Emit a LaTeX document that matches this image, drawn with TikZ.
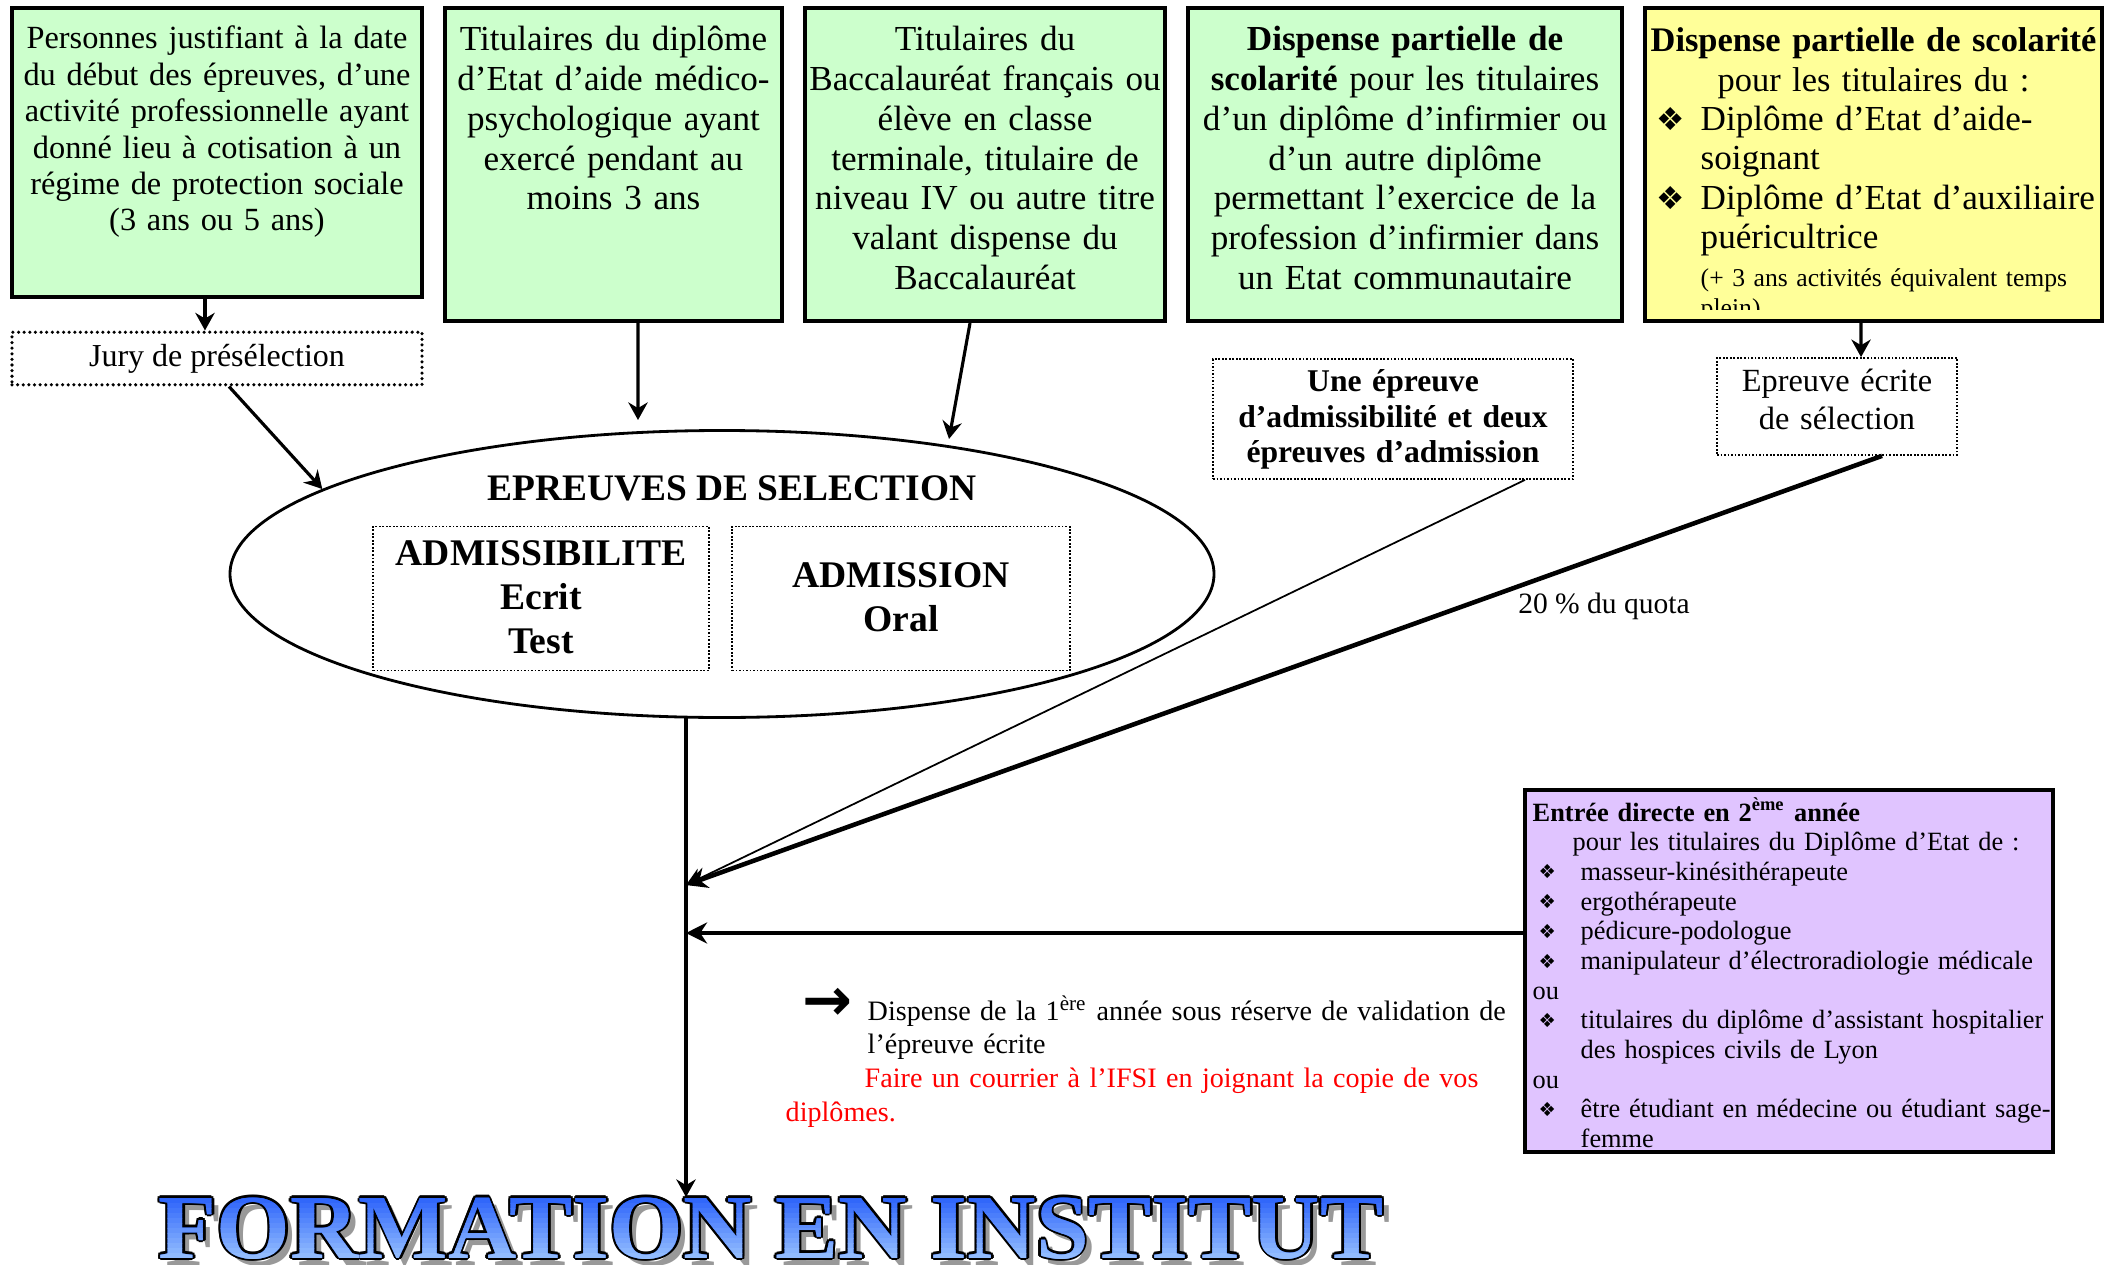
\documentclass[tikz,border=0pt]{standalone}
\usepackage{fontspec}
\setmainfont{Liberation Serif}
\newfontfamily\dejavu{DejaVu Sans}
\usetikzlibrary{arrows.meta,shapes.geometric,calc}

\definecolor{boxgreen}{RGB}{204,255,204}
\definecolor{boxyellow}{RGB}{255,255,153}
\definecolor{boxpurple}{RGB}{224,196,255}
\definecolor{tblue}{RGB}{40,95,250}
\definecolor{tlight}{RGB}{165,205,255}

\newcommand{\fsz}[2]{\fontsize{#1}{#2}\selectfont}
\newcommand{\dia}[1]{{\dejavu\fontsize{#1}{#1}\selectfont ❖}}
\newcommand{\pb}{\hspace*{0.06cm}\makebox[0.42cm][l]{\raisebox{0.4pt}{\dia{5.5}}}}
\newcommand{\ftext}{\scalebox{1.037}[1]{FORMATION EN INSTITUT}}

\tikzset{
	greenbox/.style={draw, line width=1.2pt, fill=boxgreen, inner sep=0pt},
	dotbox/.style={draw, line width=0.5pt, dash pattern=on 0.5pt off 0.5pt, inner sep=0pt},
	txt/.style={inner sep=0pt, anchor=base, align=center},
	titletext/.style={inner sep=0pt, anchor=base west, font=\bfseries\fsz{26}{26}},
	arr/.style={line width=0.9pt, -{Stealth[length=5pt,width=5.5pt]}},
	thinarr/.style={line width=0.5pt, -{Stealth[length=5pt,width=5.5pt]}},
	thickarr/.style={line width=1.3pt, -{Stealth[length=6pt,width=6pt]}}
}

\begin{document}
\begin{tikzpicture}
	\useasboundingbox (0,0) rectangle (21.14,-12.65);

	\node[greenbox, minimum width=4.10cm, minimum height=2.89cm] (bx1) at (2.17,-1.525) {};
	\node[greenbox, minimum width=3.37cm, minimum height=3.13cm] (bx2) at (6.135,-1.645) {};
	\node[greenbox, minimum width=3.60cm, minimum height=3.13cm] (bx3) at (9.85,-1.645) {};
	\node[greenbox, minimum width=4.34cm, minimum height=3.13cm] (bx4) at (14.05,-1.645) {};
	\node[greenbox, fill=boxyellow, minimum width=4.57cm, minimum height=3.13cm] (bx5) at (18.735,-1.645) {};

	\node[txt, text width=4.3cm, font=\fsz{9.2}{10.35}] (t1) at (2.17,-0.49) {Personnes justifiant à la date\\du début des épreuves, d’une\\activité professionnelle ayant\\donné lieu à cotisation à un\\régime de protection sociale\\(3 ans ou 5 ans)};
	\node[txt, text width=3.6cm, font=\fsz{10}{11.3}] (t2) at (6.135,-0.51) {Titulaires du diplôme\\d’Etat d’aide médico-\\psychologique ayant\\exercé pendant au\\moins 3 ans};
	\node[txt, text width=3.9cm, font=\fsz{10}{11.3}] (t3) at (9.85,-0.51) {Titulaires du\\Baccalauréat français ou\\élève en classe\\terminale, titulaire de\\niveau IV ou autre titre\\valant dispense du\\Baccalauréat};
	\node[txt, text width=4.5cm, font=\fsz{10}{11.3}] (t4) at (14.05,-0.51) {\textbf{Dispense partielle de}\\\textbf{scolarité} pour les titulaires\\d’un diplôme d’infirmier ou\\d’un autre diplôme\\permettant l’exercice de la\\profession d’infirmier dans\\un Etat communautaire};
	\node[txt, text width=4.8cm, font=\fsz{9.8}{11.3}] (t5a) at (18.735,-0.516) {\textbf{Dispense partielle de scolarité}\\pour les titulaires du :};
	\node[txt, anchor=base west, text width=4.8cm, align=left, font=\fsz{10}{11.2}] (t5b) at (16.56,-1.306) {\makebox[0.44cm][l]{\dia{9}}Diplôme d’Etat d’aide-\\\hspace*{0.44cm}soignant\\\makebox[0.44cm][l]{\dia{9}}Diplôme d’Etat d’auxiliaire\\\hspace*{0.44cm}puéricultrice};
	\begin{scope}
		\clip (16.47,-0.10) rectangle (21.00,-3.10);
		\node[txt, anchor=base west, text width=4.2cm, align=left, font=\fsz{7.3}{8.5}] (t5c) at (17.00,-2.87) {(+ 3 ans activités équivalent temps\\plein)};
	\end{scope}

	\node[draw, line width=1pt, dash pattern=on 0pt off 1.6pt, line cap=round, minimum width=4.10cm, minimum height=0.48cm, font=\fsz{9.1}{10}] (jury) at (2.17,-3.585) {Jury de présélection};

	\node[dotbox, minimum width=3.60cm, minimum height=1.20cm] (une) at (13.93,-4.19) {};
	\node[txt, text width=3.7cm, font=\bfseries\fsz{9}{10}] (unet) at (13.93,-3.92) {Une épreuve\\d’admissibilité et deux\\épreuves d’admission};
	\node[dotbox, minimum width=2.40cm, minimum height=0.97cm] (ecr) at (18.37,-4.065) {};
	\node[txt, text width=2.5cm, font=\fsz{9.2}{10.8}] (ecrt) at (18.37,-3.92) {Epreuve écrite\\de sélection};

	\node[draw, ellipse, line width=0.8pt, inner sep=0pt, minimum width=9.84cm, minimum height=2.87cm] (sel) at (7.22,-5.74) {};
	\node[txt, font=\bfseries\fsz{10.65}{12}] (seltitle) at (7.32,-5.005) {EPREUVES DE SELECTION};
	\node[dotbox, minimum width=3.36cm, minimum height=1.44cm] (adm1) at (5.41,-5.985) {};
	\node[txt, text width=3.3cm, font=\bfseries\fsz{10.7}{12.5}] (adt1) at (5.41,-5.655) {ADMISSIBILITE\\Ecrit\\Test};
	\node[dotbox, minimum width=3.38cm, minimum height=1.44cm] (adm2) at (9.01,-5.985) {};
	\node[txt, text width=3.3cm, font=\bfseries\fsz{10.7}{12.5}] (adt2) at (9.01,-5.875) {ADMISSION\\Oral};

	\node[txt, font=\fsz{8.4}{9.6}] (quota) at (16.04,-6.13) {20 \% du quota};

	\node[draw, line width=1.2pt, fill=boxpurple, inner sep=0pt, minimum width=5.28cm, minimum height=3.62cm] (pur) at (17.89,-9.71) {};
	\node[txt, anchor=base west, text width=6.0cm, align=left, font=\fsz{7.5}{8.45}] (purt) at (15.32,-8.21) {\textbf{Entrée directe en 2\textsuperscript{ème} année}\\\hspace*{0.40cm}pour les titulaires du Diplôme d’Etat de :\\\pb masseur-kinésithérapeute\\\pb ergothérapeute\\\pb pédicure-podologue\\\pb manipulateur d’électroradiologie médicale\\ou\\\pb titulaires du diplôme d’assistant hospitalier\\\hspace*{0.48cm}des hospices civils de Lyon\\ou\\\pb être étudiant en médecine ou étudiant sage-\\\hspace*{0.48cm}femme};

	\node[txt, anchor=base west, text width=8.0cm, align=left, font=\fsz{8}{9.6}] (dispn) at (7.85,-10.20) {\makebox[0.82cm][l]{\hspace*{0.17cm}{\dejavu\bfseries\fsz{17}{17}→}}Dispense de la 1\textsuperscript{ère} année sous réserve de validation de\\\hspace*{0.82cm}l’épreuve écrite\\\hspace*{0.79cm}\textcolor{red}{Faire un courrier à l’IFSI en joignant la copie de vos}\\\textcolor{red}{diplômes.}};

	\coordinate (e2) at (6.38,-4.20);
	\coordinate (e3) at (9.49,-4.39);
	\coordinate (ltop) at (6.86,-7.17);
	\coordinate (j1) at (6.86,-8.85);
	\coordinate (j2) at (6.86,-9.33);
	\coordinate (lbot) at (6.86,-11.97);

	\draw[arr] ([xshift=-0.12cm]bx1.south) -- ([xshift=-0.12cm]jury.north);
	\draw[arr] ([xshift=0.12cm]jury.south) -- (sel.168);
	\draw[arr] ([xshift=0.245cm]bx2.south) -- (e2);
	\draw[arr] ([xshift=-0.15cm]bx3.south) -- (e3);
	\draw[arr] ([xshift=-0.125cm]bx5.south) -- ([xshift=0.24cm]ecr.north);
	\draw[thinarr] ([xshift=1.32cm]une.south) -- (j1);
	\draw[thickarr] ([xshift=0.45cm]ecr.south) -- (j1);
	\draw[thickarr] ([yshift=0.38cm]pur.west) -- (j2);
	\draw[arr] (ltop) -- (lbot);

	\coordinate (tpos) at (1.58,-12.58);
	\node[titletext, text=black!40] (fshadow) at ($(tpos)+(0.07,-0.07)$) {\ftext};
	\foreach \a in {0,45,...,315}
		\node[titletext, text=black] (fline\a) at ($(tpos)+(\a:0.7pt)$) {\ftext};
	\node[titletext, text=tblue] (ftitle) at (tpos) {\ftext};
	\foreach \i [evaluate=\i as \shadeval using int(100-7*\i)] in {0,...,14}{
		\begin{scope}
			\clip (1.4,{-11.93-0.05*\i}) rectangle (14.4,{-11.982-0.05*\i});
			\node[titletext, text=tblue!\shadeval!tlight] (fstrip\i) at (tpos) {\ftext};
		\end{scope}
	}
\end{tikzpicture}
\end{document}
